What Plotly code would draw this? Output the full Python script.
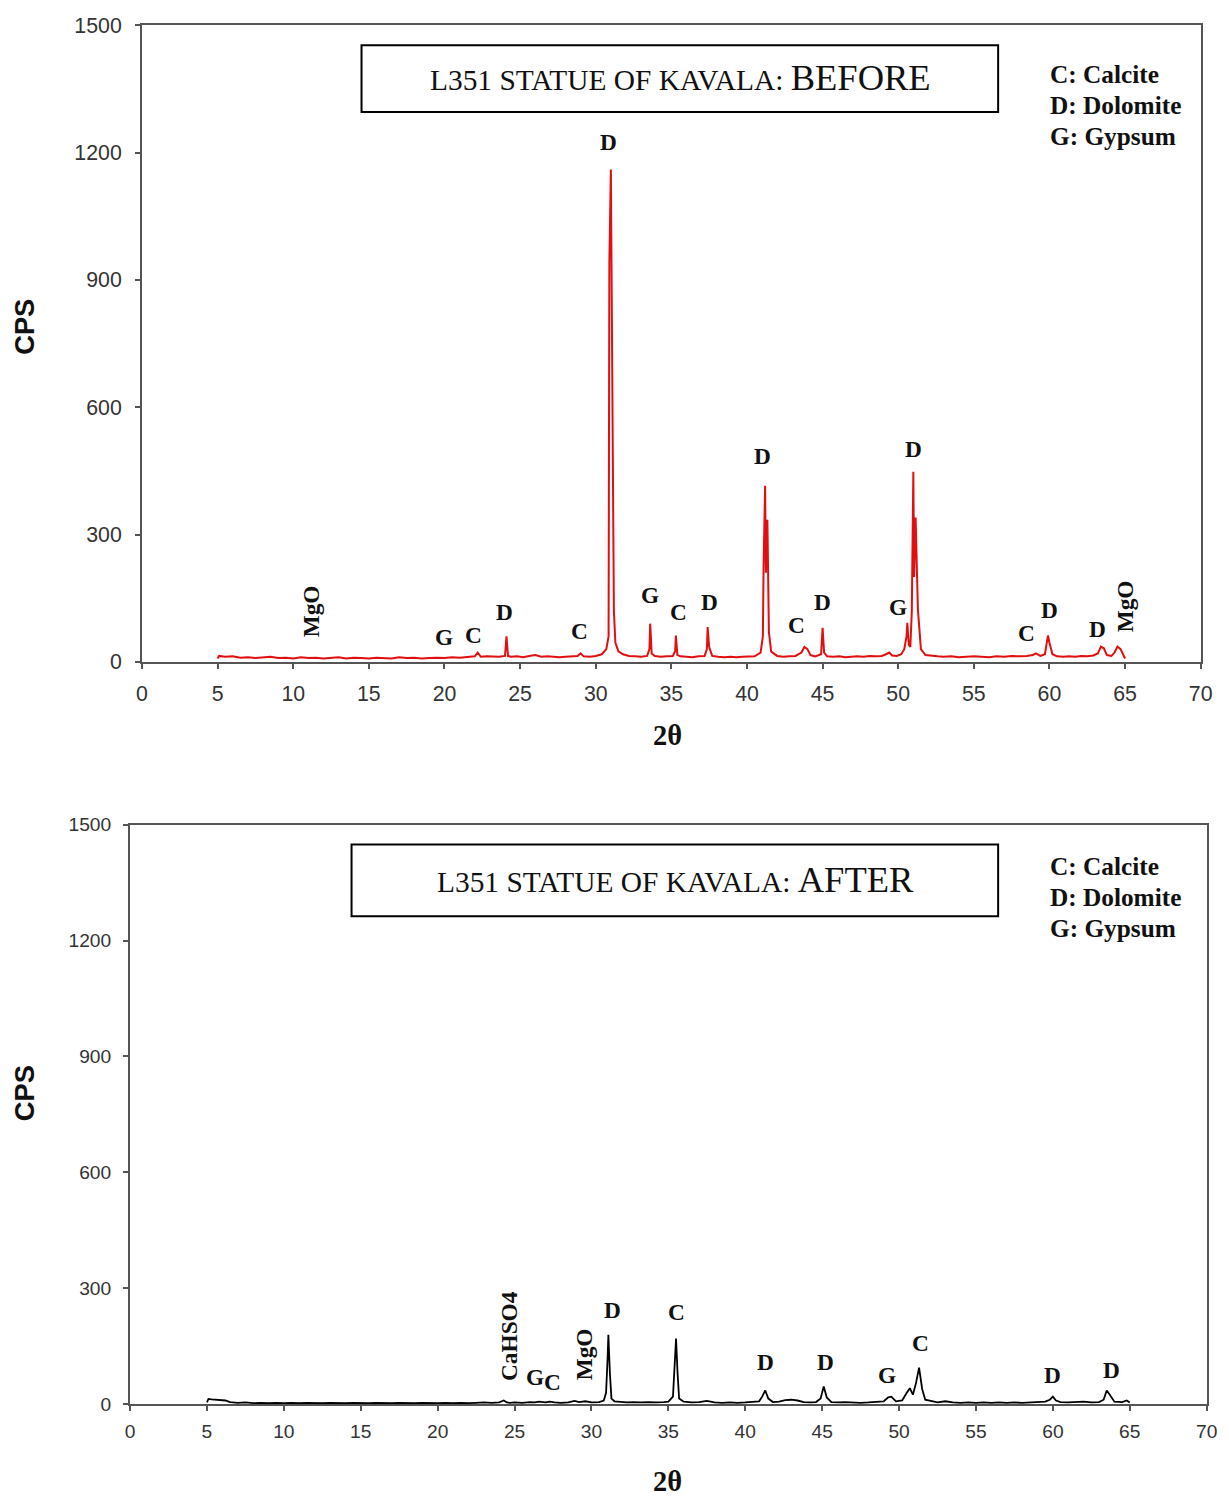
import plotly.graph_objects as go

# ---------------- data: BEFORE (red) ----------------
two_theta_before = [
    5.0, 5.1, 5.5, 6.0, 6.5, 7.0, 7.5, 8.0, 8.5, 9.0,
    9.5, 10.0, 10.5, 11.0, 11.5, 12.0, 12.5, 13.0, 13.5, 14.0,
    14.5, 15.0, 15.5, 16.0, 16.5, 17.0, 17.5, 18.0, 18.5, 19.0,
    19.5, 20.0, 20.5, 21.0, 21.5, 22.0, 22.2, 22.4, 22.8, 23.2,
    23.6, 24.0, 24.1, 24.2, 24.4, 24.8, 25.2, 25.6, 26.0, 26.4,
    26.8, 27.2, 27.6, 28.0, 28.4, 28.8, 29.0, 29.2, 29.6, 30.0,
    30.4, 30.7, 30.85, 30.9, 31.0, 31.05, 31.15, 31.2, 31.3, 31.5,
    31.8, 32.2, 32.6, 33.0, 33.4, 33.55, 33.6, 33.7, 33.9, 34.3,
    34.7, 35.1, 35.25, 35.3, 35.4, 35.6, 36.0, 36.4, 36.8, 37.2,
    37.35, 37.4, 37.5, 37.7, 38.1, 38.5, 38.9, 39.3, 39.7, 40.1,
    40.5, 40.9, 41.05, 41.1, 41.2, 41.25, 41.35, 41.45, 41.6, 42.0,
    42.4, 42.8, 43.2, 43.6, 43.8, 44.0, 44.2, 44.5, 44.9, 45.0,
    45.1, 45.3, 45.7, 46.1, 46.5, 46.9, 47.3, 47.7, 48.1, 48.5,
    48.9, 49.2, 49.4, 49.6, 49.9, 50.2, 50.4, 50.55, 50.6, 50.7,
    50.8, 50.9, 51.0, 51.05, 51.15, 51.3, 51.5, 51.8, 52.2, 52.6,
    53.0, 53.5, 54.0, 54.5, 55.0, 55.5, 56.0, 56.5, 57.0, 57.5,
    58.0, 58.5, 58.9, 59.1, 59.4, 59.7, 59.9, 60.0, 60.2, 60.5,
    60.9, 61.3, 61.7, 62.1, 62.5, 62.9, 63.2, 63.4, 63.6, 63.8,
    64.1, 64.3, 64.5, 64.7, 64.9, 65.0,
]
cps_before = [
    8, 14, 12, 13, 10, 11, 9, 10, 12, 9,
    10, 8, 11, 9, 10, 8, 9, 11, 8, 10,
    9, 8, 10, 9, 8, 11, 9, 10, 8, 9,
    10, 9, 11, 10, 12, 13, 22, 12, 13, 12,
    12, 14, 60, 14, 12, 13, 11, 14, 16, 12,
    13, 12, 11, 12, 13, 14, 20, 13, 12, 14,
    18, 30, 60, 940, 1160, 950, 390, 120, 45, 25,
    18, 14, 13, 12, 14, 30, 90, 20, 14, 12,
    13, 14, 25, 62, 16, 13, 12, 11, 13, 14,
    30, 82, 35, 14, 12, 11, 12, 11, 12, 13,
    13, 22, 60, 228, 415, 210, 335, 70, 24, 14,
    12, 13, 14, 22, 35, 30, 16, 13, 18, 80,
    22, 13, 12, 13, 11, 12, 13, 12, 14, 13,
    14, 18, 22, 15, 14, 18, 30, 60, 92, 40,
    35, 120, 448, 200, 340, 125, 30, 16, 14, 13,
    12, 13, 11, 12, 13, 12, 11, 13, 12, 14,
    13, 14, 16, 20, 14, 18, 62, 45, 18, 13,
    12, 13, 12, 14, 13, 15, 20, 36, 32, 16,
    14, 22, 36, 30, 14, 8,
]

# ---------------- data: AFTER (black) ----------------
two_theta_after = [
    5.0, 5.1, 5.3, 5.6, 5.9, 6.2, 6.5, 7.0, 7.5, 8.0,
    8.5, 9.0, 9.5, 10.0, 10.5, 11.0, 11.5, 12.0, 12.5, 13.0,
    13.5, 14.0, 14.5, 15.0, 15.5, 16.0, 16.5, 17.0, 17.5, 18.0,
    18.5, 19.0, 19.5, 20.0, 20.5, 21.0, 21.5, 22.0, 22.5, 23.0,
    23.5, 24.0, 24.3, 24.5, 24.7, 25.0, 25.5, 26.0, 26.3, 26.6,
    27.0, 27.3, 27.6, 28.0, 28.5, 28.9, 29.2, 29.6, 30.0, 30.5,
    30.8, 30.95, 31.05, 31.1, 31.2, 31.3, 31.5, 31.9, 32.3, 32.7,
    33.2, 33.7, 34.2, 34.7, 35.0, 35.3, 35.4, 35.5, 35.6, 35.7,
    36.0, 36.5, 37.0, 37.5, 38.0, 38.5, 39.0, 39.5, 40.0, 40.5,
    40.9, 41.1, 41.3, 41.5, 41.8, 42.2, 42.6, 43.0, 43.4, 43.8,
    44.2, 44.6, 44.9, 45.1, 45.3, 45.6, 46.0, 46.5, 47.0, 47.5,
    48.0, 48.5, 49.0, 49.3, 49.5, 49.8, 50.2, 50.5, 50.7, 50.9,
    51.1, 51.3, 51.5, 51.7, 52.0, 52.5, 53.0, 53.5, 54.0, 54.5,
    55.0, 55.5, 56.0, 56.5, 57.0, 57.5, 58.0, 58.5, 59.0, 59.5,
    59.8, 60.0, 60.2, 60.5, 61.0, 61.5, 62.0, 62.5, 63.0, 63.3,
    63.5, 63.7, 64.0, 64.5, 64.8, 65.0,
]
cps_after = [
    5, 14, 13, 12, 11, 10, 6, 4, 5, 3,
    4, 3, 4, 3, 4, 3, 4, 3, 3, 4,
    3, 3, 4, 3, 3, 4, 3, 3, 4, 3,
    3, 4, 3, 3, 4, 3, 4, 3, 4, 5,
    4, 5, 10, 5, 4, 5, 4, 6, 5, 7,
    5, 7, 5, 4, 5, 9, 6, 8, 5, 6,
    10, 30, 120, 180, 80, 15, 8, 6, 5, 6,
    5, 6, 5, 6, 7, 20, 100, 170, 80, 15,
    7, 5, 6, 9, 5, 4, 5, 4, 5, 6,
    8, 20, 36, 15, 6, 7, 11, 12, 10, 6,
    5, 6, 15, 46, 18, 6, 5, 6, 5, 4,
    5, 6, 8, 18, 20, 8, 10, 30, 42, 25,
    55, 95, 40, 12, 9, 5, 8, 5, 4, 5,
    4, 5, 4, 5, 4, 5, 4, 5, 6, 7,
    12, 20, 10, 6, 5, 6, 7, 5, 6, 12,
    36, 25, 7, 6, 10, 5,
]

# ---------------- peak labels ----------------
labels_before = ["MgO", "G", "C", "D", "C", "D", "G", "C", "D", "D", "C", "D", "G", "D", "C", "D", "D", "MgO"]
label_x_before = [11.2, 20.0, 21.9, 24.0, 28.9, 30.85, 33.6, 35.5, 37.5, 41.0, 43.3, 45.0, 50.0, 51.0, 58.5, 60.0, 63.2, 65.0]
label_y_before = [120, 59, 63, 117, 73, 1225, 157, 117, 141, 486, 87, 141, 129, 502, 68, 122, 77, 131]

labels_after = ["CaHSO4", "G", "C", "MgO", "D", "C", "D", "D", "G", "C", "D", "D"]
label_x_after = [24.6, 26.3, 27.5, 29.5, 31.4, 35.5, 41.3, 45.2, 49.2, 51.4, 60.0, 63.8]
label_y_after = [178, 72, 57, 129, 245, 240, 109, 109, 75, 160, 75, 88]

legend_lines = ["C: Calcite", "D: Dolomite", "G: Gypsum"]
y_ticks = [0, 300, 600, 900, 1200, 1500]
x_ticks = list(range(0, 75, 5))

W, H = 1229, 1500
# the photographed page shows figure pixels slightly shrunk and shifted
# (body margin + capture); map target picture pixels back to figure pixels
SX, OX = 0.9875, 4.7
SY, OY = 0.986, 9.8


def px(x):
    return ((x - OX) / SX) / W


def py(y):
    return 1 - ((y - OY) / SY) / H


def fs(s):
    return round(s / SX, 1)


fig = go.Figure()
fig.add_trace(go.Scatter(x=two_theta_before, y=cps_before, mode="lines",
                         line=dict(color="rgb(225,15,15)", width=2),
                         xaxis="x", yaxis="y", showlegend=False))
fig.add_trace(go.Scatter(x=two_theta_after, y=cps_after, mode="lines",
                         line=dict(color="black", width=1.8),
                         xaxis="x2", yaxis="y2", showlegend=False))

axis_common = dict(showline=True, linecolor="#555", linewidth=2, mirror=True,
                   ticks="outside", ticklen=5, tickwidth=1.5, tickcolor="#555",
                   showgrid=False, zeroline=False)

fig.update_layout(
    width=W, height=H,
    margin=dict(l=0, r=0, t=0, b=0),
    paper_bgcolor="white", plot_bgcolor="white",
    xaxis=dict(domain=[px(141), px(1202)], range=[0, 70], tickvals=x_ticks,
               anchor="y", ticklabelstandoff=7,
               tickfont=dict(family="Arial", size=fs(21), color="#333"), **axis_common),
    yaxis=dict(domain=[py(661), py(23)], range=[0, 1500], tickvals=y_ticks,
               anchor="x", ticklabelstandoff=9,
               tickfont=dict(family="Arial", size=fs(21), color="#333"), **axis_common),
    xaxis2=dict(domain=[px(129), px(1208)], range=[0, 70], tickvals=x_ticks,
                anchor="y2", ticklabelstandoff=4,
                tickfont=dict(family="Arial", size=fs(19), color="#333"), **axis_common),
    yaxis2=dict(domain=[py(1405), py(824)], range=[0, 1500], tickvals=y_ticks,
                anchor="x2", ticklabelstandoff=8,
                tickfont=dict(family="Arial", size=fs(19), color="#333"), **axis_common),
)

ann = []
serif = "Liberation Serif"
for t, x, y in zip(labels_before, label_x_before, label_y_before):
    ann.append(dict(x=x, y=y, xref="x", yref="y", text=f"<b>{t}</b>", showarrow=False,
                    xanchor="center", yanchor="middle",
                    textangle=-90 if len(t) > 1 else 0,
                    font=dict(family=serif, size=fs(23), color="#111")))
for t, x, y in zip(labels_after, label_x_after, label_y_after):
    ann.append(dict(x=x, y=y, xref="x2", yref="y2", text=f"<b>{t}</b>", showarrow=False,
                    xanchor="center", yanchor="middle",
                    textangle=-90 if len(t) > 1 else 0,
                    font=dict(family=serif, size=fs(23), color="#111")))

# titles in boxes
titles = [("BEFORE", 361, 43, 999, 110), ("AFTER", 351, 844, 999, 916)]
for word, x0, y0, x1, y1 in titles:
    fig.add_shape(type="rect", xref="paper", yref="paper",
                  x0=px(x0), x1=px(x1), y0=py(y1), y1=py(y0),
                  line=dict(color="black", width=2), fillcolor="white", layer="below")
    ann.append(dict(x=px((x0 + x1) / 2 + 1), y=py((y0 + y1) / 2 - 1), xref="paper", yref="paper",
                    xanchor="center", yanchor="middle",
                    text=f"<span style='font-size:{fs(29)}px'>L351 STATUE OF KAVALA: </span>{word}",
                    showarrow=False, font=dict(family=serif, size=fs(36), color="#111")))

# legend texts
for top in (72, 866):
    for i, line in enumerate(legend_lines):
        ann.append(dict(x=px(1049), y=py(top + i * 31), xref="paper", yref="paper",
                        xanchor="left", yanchor="middle", text=f"<b>{line}</b>", showarrow=False,
                        font=dict(family=serif, size=fs(25), color="#111")))

# axis titles
for yc in (325, 1093):
    ann.append(dict(x=px(23), y=py(yc), xref="paper", yref="paper", text="<b>CPS</b>",
                    xanchor="center", yanchor="middle",
                    textangle=-90, showarrow=False,
                    font=dict(family="Arial", size=fs(27), color="#111")))
for yc in (735, 1482):
    ann.append(dict(x=px(668), y=py(yc), xref="paper", yref="paper", text="<b>2θ</b>",
                    xanchor="center", yanchor="middle",
                    showarrow=False, font=dict(family=serif, size=fs(28), color="#111")))

fig.update_layout(annotations=ann)
fig.write_html("out.html")
